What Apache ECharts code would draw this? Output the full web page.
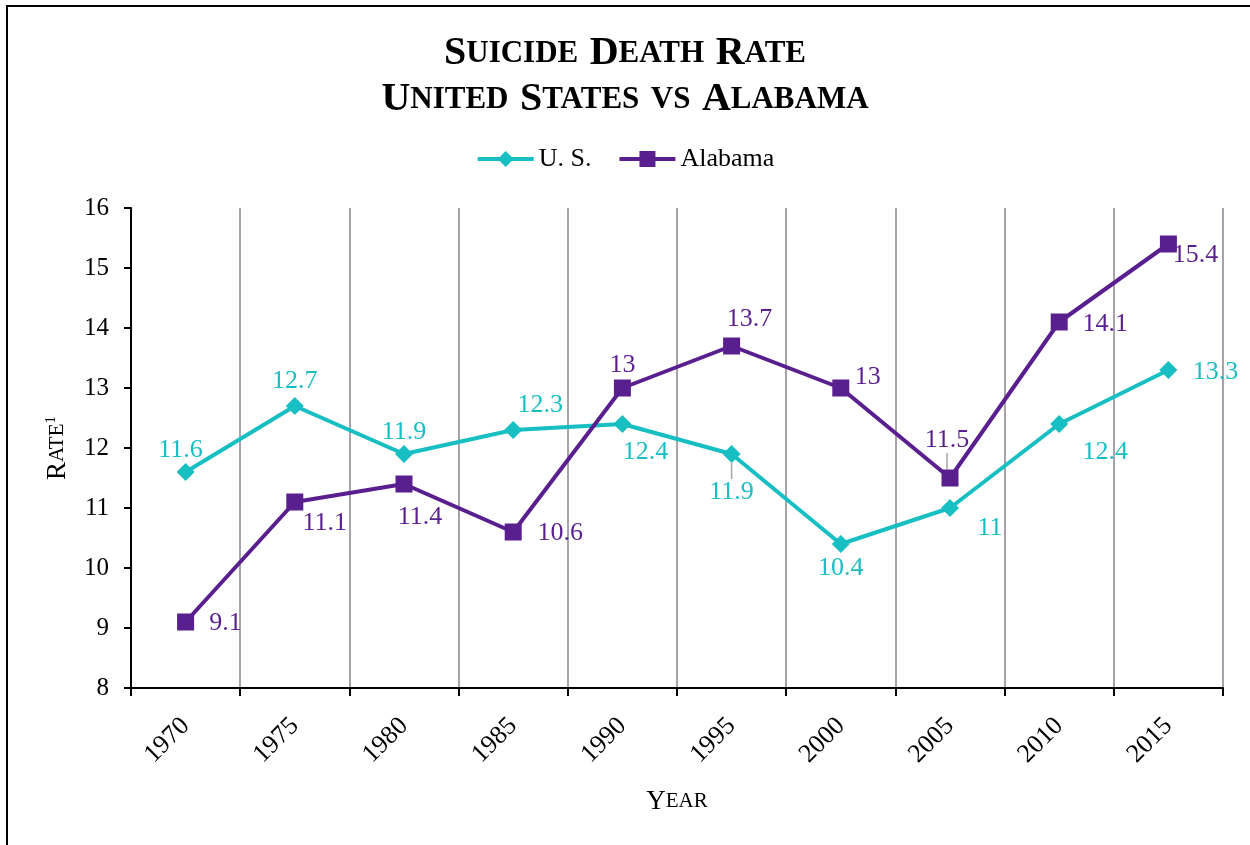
<!DOCTYPE html>
<html>
<head>
<meta charset="utf-8">
<script src="https://cdn.jsdelivr.net/npm/echarts@6/dist/echarts.min.js"></script>
<style>
  html, body { margin: 0; padding: 0; background: #fff; }
  #chart { position: absolute; left: 0; top: 0; width: 1250px; height: 845px; }
  #frame { position: absolute; left: 6px; top: 5px; width: 1260px; height: 860px;
           border-left: 2px solid #000; border-top: 2px solid #000; pointer-events: none; }
</style>
</head>
<body>
<div id="chart"></div>
<div id="frame"></div>
<script>
// Suicide death rate per 100,000, United States vs Alabama
const years = ['1970', '1975', '1980', '1985', '1990', '1995', '2000', '2005', '2010', '2015'];
const usRate = [11.6, 12.7, 11.9, 12.3, 12.4, 11.9, 10.4, 11, 12.4, 13.3];
const alabamaRate = [9.1, 11.1, 11.4, 10.6, 13, 13.7, 13, 11.5, 14.1, 15.4];
const yTicks = { min: 8, max: 16, interval: 1 };

// label offsets from each marker centre (px)
const usLabelShift = [[-5, -22], [0, -25], [0, -22], [27, -25], [23, 28], [0, 38], [0, 24], [40, 20], [46, 28], [47, 2]];
const alLabelShift = [[40, 1], [30, 21], [16, 33], [47, 1], [0, -23], [18, -27], [27, -11], [-3, -38], [46, 2], [27, 11]];
const usLeader = [5];
const alLeader = [7];

const serif = '"Liberation Serif", "Times New Roman", serif';
const US_COLOR = '#17BEC2';
const AL_COLOR = '#5A1F8F';

function seriesData(values, leaders) {
  return values.map((v, i) => leaders.includes(i)
    ? { value: v, labelLine: { show: true, lineStyle: { color: '#A6A6A6', width: 1.5 } } }
    : v);
}

const chart = echarts.init(document.getElementById('chart'), null, { renderer: 'canvas' });
chart.setOption({
  animation: false,
  backgroundColor: '#fff',
  textStyle: { fontFamily: serif },
  title: {
    left: 'center',
    top: 26,
    text: '{b|S}{s|UICIDE}{w| }{b|D}{s|EATH}{w| }{b|R}{s|ATE}\n' +
          '{b|U}{s|NITED}{w| }{b|S}{s|TATES}{w| }{s|VS}{w| }{b|A}{s|LABAMA}',
    textStyle: {
      fontFamily: serif,
      rich: {
        b: { fontFamily: serif, fontSize: 40, fontWeight: 'bold', color: '#000', lineHeight: 46 },
        s: { fontFamily: serif, fontSize: 31, fontWeight: 'bold', color: '#000', lineHeight: 46 },
        w: { fontFamily: serif, fontSize: 46, fontWeight: 'bold', color: '#000', lineHeight: 46 }
      }
    }
  },
  legend: {
    top: 141,
    left: 'center',
    itemWidth: 56,
    itemHeight: 20,
    itemGap: 26,
    textStyle: { fontFamily: serif, fontSize: 26, color: '#000' },
    data: [
      { name: 'U. S.', lineStyle: { width: 4 } },
      { name: 'Alabama', lineStyle: { width: 4 } }
    ]
  },
  grid: { left: 131, right: 27, top: 208, bottom: 157, containLabel: false },
  xAxis: {
    type: 'category',
    data: years,
    boundaryGap: true,
    name: '{b|Y}{s|EAR}',
    nameLocation: 'middle',
    nameGap: 100,
    nameTextStyle: {
      rich: {
        b: { fontFamily: serif, fontSize: 27, color: '#000' },
        s: { fontFamily: serif, fontSize: 21, color: '#000' }
      }
    },
    axisLine: { lineStyle: { color: '#000', width: 2 } },
    axisTick: { show: true, length: 8, lineStyle: { color: '#000', width: 2 } },
    axisLabel: { rotate: 45, margin: 34, fontFamily: serif, fontSize: 26, color: '#000' },
    splitLine: { show: true, lineStyle: { color: '#A8A3AA', width: 2 } }
  },
  yAxis: {
    type: 'value',
    min: yTicks.min,
    max: yTicks.max,
    interval: yTicks.interval,
    name: '{b|R}{s|ATE}{sup|1}',
    nameLocation: 'middle',
    nameGap: 60,
    nameRotate: 90,
    nameTextStyle: {
      rich: {
        b: { fontFamily: serif, fontSize: 27, color: '#000' },
        s: { fontFamily: serif, fontSize: 21, color: '#000' },
        sup: { fontFamily: serif, fontSize: 15, color: '#000', padding: [0, 0, 12, 0] }
      }
    },
    axisLine: { show: true, lineStyle: { color: '#000', width: 2 } },
    axisTick: { show: true, length: 7, lineStyle: { color: '#000', width: 2 } },
    axisLabel: { margin: 22, fontFamily: serif, fontSize: 25, color: '#000' },
    splitLine: { show: false }
  },
  series: [
    {
      name: 'U. S.',
      type: 'line',
      data: seriesData(usRate, usLeader),
      color: US_COLOR,
      symbol: 'diamond',
      symbolSize: 18,
      lineStyle: { width: 4, color: US_COLOR },
      itemStyle: { color: US_COLOR },
      label: { show: true, position: 'inside', fontFamily: serif, fontSize: 26, color: US_COLOR },
      labelLayout: p => ({ dx: usLabelShift[p.dataIndex][0], dy: usLabelShift[p.dataIndex][1] }),
      z: 3
    },
    {
      name: 'Alabama',
      type: 'line',
      data: seriesData(alabamaRate, alLeader),
      color: AL_COLOR,
      symbol: 'rect',
      symbolSize: 17,
      lineStyle: { width: 4, color: AL_COLOR },
      itemStyle: { color: AL_COLOR },
      label: { show: true, position: 'inside', fontFamily: serif, fontSize: 26, color: AL_COLOR },
      labelLayout: p => ({ dx: alLabelShift[p.dataIndex][0], dy: alLabelShift[p.dataIndex][1] }),
      z: 4
    }
  ]
});
</script>
</body>
</html>
